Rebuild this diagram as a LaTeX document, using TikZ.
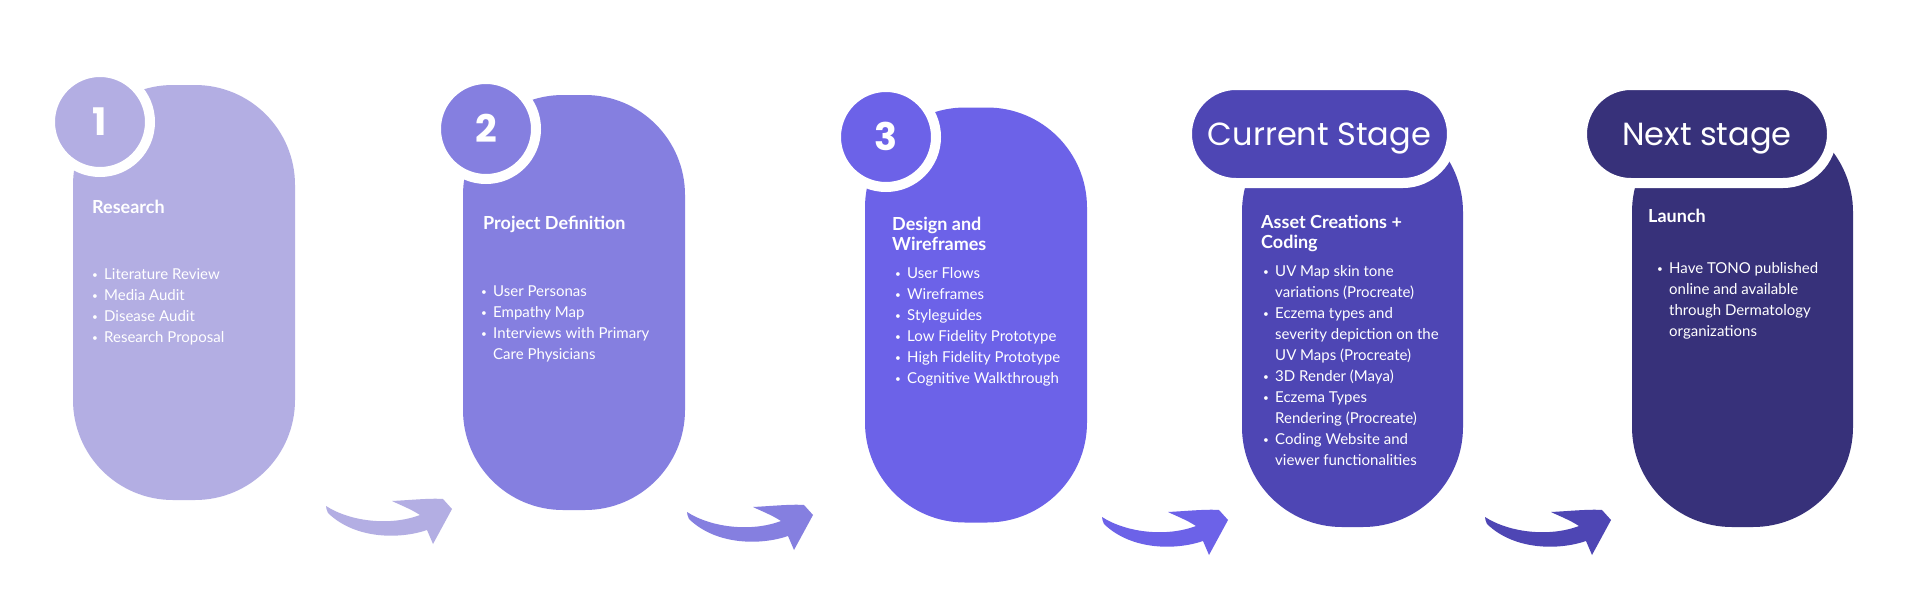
\documentclass[tikz,border=0pt]{standalone}
\usepackage{fontspec}
\setmainfont{Lato}
\newfontfamily\popfont{Poppins}
\definecolor{stA}{HTML}{B3AEE3}
\definecolor{stB}{HTML}{857FE0}
\definecolor{stC}{HTML}{6C62E8}
\definecolor{stD}{HTML}{4E46B4}
\definecolor{stE}{HTML}{37317A}
\newcommand{\bl}{\makebox[12pt][l]{\raisebox{1.5pt}{\fontsize{10}{10}\selectfont\textbullet}}}
\newcommand{\cont}{\hspace*{12pt}}
\tikzset{
  stage/.style={rectangle, rounded corners=100pt, minimum width=222pt,
                minimum height=415pt, inner sep=0pt},
  badge/.style={circle, draw=white, line width=10pt, minimum size=100pt,
                inner sep=0pt, text=white, text height=27pt, text depth=0pt,
                font=\popfont\bfseries\fontsize{38}{38}\selectfont},
  tag/.style={rectangle, rounded corners=49pt, draw=white, line width=10pt,
              minimum height=98pt, inner sep=0pt, text=white,
              text height=22pt, text depth=0pt,
              font=\popfont\fontsize{32}{32}\selectfont},
  head/.style={anchor=base west, inner sep=0pt, align=left, text=white,
               font=\bfseries\fontsize{18}{20}\selectfont},
  items/.style={anchor=base west, inner sep=0pt, align=left, text=white,
                font=\fontsize{15}{21}\selectfont},
  swoosh/.pic={
    \fill[pic actions] (0,0) .. controls (25,16) and (65,20) .. (94,9)
      .. controls (85,3) and (72,-2) .. (66,-5)
      .. controls (85,-6) and (105,-8) .. (117,-7)
      -- (126,3) -- (107,38) -- (101,24)
      .. controls (75,33) and (30,34) .. (2,7)
      .. controls (1,5) and (0,2) .. cycle;
  },
}
\begin{document}
\begin{tikzpicture}[x=1pt, y=-1pt]
  \useasboundingbox[fill=white] (0,0) rectangle (1920,611);

  \node[stage, fill=stA] (s1) at (184,292.5) {};
  \node[stage, fill=stB] (s2) at (574,302.5) {};
  \node[stage, fill=stC] (s3) at (976,315) {};
  \node[stage, fill=stD, minimum width=221pt] (s4) at (1352.5,319.5) {};
  \node[stage, fill=stE, minimum width=221pt] (s5) at (1742.5,319.5) {};

  \node[badge, fill=stA] (n1) at (100,122) {1};
  \node[badge, fill=stB] (n2) at (486,129) {2};
  \node[badge, fill=stC] (n3) at (886,137) {3};
  \node[tag, fill=stD, minimum width=265pt] (t4) at (1319.5,134) {Current Stage};
  \node[tag, fill=stE, minimum width=250pt] (t5) at (1707,134) {Next stage};

  \node[head] (h1) at (92,213.5) {Research};
  \node[items] (l1) at (92,342.5)
    {\bl Literature Review\\ \bl Media Audit\\ \bl Disease Audit\\ \bl Research Proposal};

  \node[head] (h2) at (483,229.5) {Project Definition};
  \node[items] (l2) at (481,359.5)
    {\bl User Personas\\ \bl Empathy Map\\ \bl Interviews with Primary\\ \cont Care Physicians};

  \node[head] (h3) at (892,250.5) {Design and\\Wireframes};
  \node[items] (l3) at (895,383.5)
    {\bl User Flows\\ \bl Wireframes\\ \bl Styleguides\\ \bl Low Fidelity Prototype\\
     \bl High Fidelity Prototype\\ \bl Cognitive Walkthrough};

  \node[head] (h4) at (1261,248.5) {Asset Creations +\\Coding};
  \node[items] (l4) at (1263,465.5)
    {\bl UV Map skin tone\\ \cont variations (Procreate)\\ \bl Eczema types and\\
     \cont severity depiction on the\\ \cont UV Maps (Procreate)\\ \bl 3D Render (Maya)\\
     \bl Eczema Types\\ \cont Rendering (Procreate)\\ \bl Coding Website and\\
     \cont viewer functionalities};

  \node[head] (h5) at (1648,222.5) {Launch};
  \node[items] (l5) at (1657,336.5)
    {\bl Have TONO published\\ \cont online and available\\ \cont through Dermatology\\
     \cont organizations};

  \pic[fill=stA] at (326,506) {swoosh};
  \pic[fill=stB] at (687,512) {swoosh};
  \pic[fill=stC] at (1102,517) {swoosh};
  \pic[fill=stD] at (1485,517) {swoosh};
\end{tikzpicture}
\end{document}
